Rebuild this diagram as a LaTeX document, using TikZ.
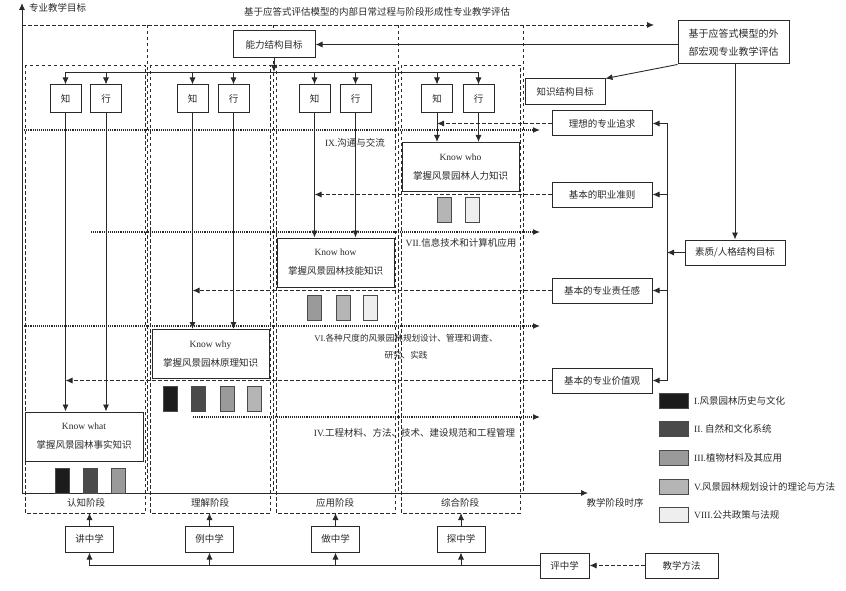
\documentclass[tikz,border=0pt]{standalone}
\usepackage{fontspec}
\setmainfont{Liberation Serif}
\newfontfamily\cjk{Noto Sans CJK SC}
\usetikzlibrary{arrows.meta}
\definecolor{ink}{HTML}{2A2A2A}
\definecolor{kI}{HTML}{1C1C1C}
\definecolor{kII}{HTML}{4A4A4A}
\definecolor{kIII}{HTML}{9A9A9A}
\definecolor{kV}{HTML}{B5B5B5}
\definecolor{kVIII}{HTML}{EEEEEE}
\newcommand{\en}[1]{{\rmfamily #1}}
\begin{document}
\begin{tikzpicture}[x=1pt,y=-1pt,
    every node/.style={font=\cjk\fontsize{9.5}{19}\selectfont,text=ink,inner sep=0pt},
    box/.style={draw=ink,line width=1pt,fill=white,minimum height=26pt},
    kbox/.style={box,minimum width=117pt,minimum height=49pt,align=center},
    zx/.style={box,minimum width=31pt,minimum height=28pt},
    swatch/.style={draw=ink!85,line width=0.9pt,minimum width=14pt,minimum height=25pt},
    keybox/.style={draw=ink!85,line width=0.9pt,minimum width=29pt,minimum height=15pt},
    conn/.style={draw=ink,line width=0.9pt},
    arr/.style={-{Latex[length=7pt,width=6pt]}},
    dline/.style={draw=ink,line width=0.9pt,dash pattern=on 3.5pt off 2.5pt},
    dotl/.style={draw=ink,line width=1.1pt,dash pattern=on 1.1pt off 1pt}]
  \useasboundingbox (0,0) rectangle (846,591);
  \draw[conn,arr] (22,493) -- (22,3);
  \draw[conn,arr] (22,493) -- (588,493);
  \draw[dline,arr] (22,25) -- (654,25);
  \foreach \x in {147.5,273,398,523}
    \draw[dline] (\x,25) -- (\x,493);
  \foreach \a/\b in {25/145,150/270,276/395,401/520}
    \draw[dline] (\a,65) rectangle (\b,513);
  \draw[dotl,arr] (22,130) -- (540,130);
  \draw[dotl,arr] (91,232) -- (540,232);
  \draw[dotl,arr] (22,326) -- (540,326);
  \draw[dotl,arr] (193,417) -- (540,417);

  \node[anchor=west] (ytitle) at (29,8) {专业教学目标};
  \node (toptitle) at (377,12) {基于应答式评估模型的内部日常过程与阶段形成性专业教学评估};
  \node (xtitle) at (615,503) {教学阶段时序};
  \foreach \x/\t [count=\i] in {86/认知阶段,210/理解阶段,335/应用阶段,460/综合阶段}
    \node (stage\i) at (\x,503) {\t};

  \node (ix) at (355,143) {\en{IX.}沟通与交流};
  \node (vii) at (461,243) {\en{VII.}信息技术和计算机应用};
  \node[align=center,font=\cjk\fontsize{8.6}{17}\selectfont] (vi) at (406,346.5)
    {\en{VI.}各种尺度的风景园林规划设计、管理和调查、\\研究、实践};
  \node (iv) at (414.5,433) {\en{IV.}工程材料、方法、技术、建设规范和工程管理};

  \node[kbox] (who) at (460.5,167) {\en{Know who}\\掌握风景园林人力知识};
  \node[kbox] (how) at (335.5,262.5) {\en{Know how}\\掌握风景园林技能知识};
  \node[kbox] (why) at (210.5,354) {\en{Know why}\\掌握风景园林原理知识};
  \node[kbox,minimum width=118pt] (what) at (84,436.5) {\en{Know what}\\掌握风景园林事实知识};

  \node[swatch,fill=kV] (who1) at (444.5,209.5) {};
  \node[swatch,fill=kVIII] (who2) at (472,209.5) {};
  \node[swatch,fill=kIII] (how1) at (314.5,307.5) {};
  \node[swatch,fill=kV] (how2) at (343,307.5) {};
  \node[swatch,fill=kVIII] (how3) at (370,307.5) {};
  \node[swatch,fill=kI] (why1) at (170,398.5) {};
  \node[swatch,fill=kII] (why2) at (198,398.5) {};
  \node[swatch,fill=kIII] (why3) at (227,398.5) {};
  \node[swatch,fill=kV] (why4) at (254,398.5) {};
  \node[swatch,fill=kI] (what1) at (62.5,480.5) {};
  \node[swatch,fill=kII] (what2) at (90,480.5) {};
  \node[swatch,fill=kIII] (what3) at (118.5,480.5) {};

  \foreach \i/\a/\b in {1/65.5/106,2/192.5/233.5,3/314.5/355.5,4/437/478.5} {
    \node[zx] (zhi\i) at (\a,99) {知};
    \node[zx] (xing\i) at (\b,99) {行};
  }
  \node[box,minimum width=82pt,minimum height=27pt] (nengli) at (274,44.5) {能力结构目标};
  \coordinate (dist) at (274,72);
  \draw[conn,arr] (nengli) -- (dist);
  \draw[conn] (zhi1 |- dist) -- (xing4 |- dist);
  \foreach \i/\k in {1/what,2/why,3/how,4/who} {
    \draw[conn,arr] (zhi\i |- dist) -- (zhi\i.north);
    \draw[conn,arr] (xing\i |- dist) -- (xing\i.north);
    \draw[conn,arr] (zhi\i) -- (zhi\i |- \k.north);
    \draw[conn,arr] (xing\i) -- (xing\i |- \k.north);
  }

  \node[box,minimum width=111pt,minimum height=43pt,align=center,
    font=\cjk\fontsize{10}{18}\selectfont] (waibu) at (733.5,42.5)
    {基于应答式模型的外\\部宏观专业教学评估};
  \node[box,minimum width=80pt] (zhishi) at (565,92) {知识结构目标};
  \node[box,minimum width=100pt,minimum height=25pt] (lixiang) at (602,123.5) {理想的专业追求};
  \node[box,minimum width=100pt,minimum height=25pt] (zhunze) at (602,194.5) {基本的职业准则};
  \node[box,minimum width=100pt,minimum height=25pt] (zeren) at (602,290.5) {基本的专业责任感};
  \node[box,minimum width=100pt,minimum height=25pt] (jiazhi) at (602,380.5) {基本的专业价值观};
  \node[box,minimum width=100pt,minimum height=25pt] (suzhi) at (735,252.5) {素质/人格结构目标};

  \draw[conn,arr] (waibu.west |- nengli.east) -- (nengli.east);
  \draw[conn,arr] (waibu.south west) -- (zhishi.north east);
  \draw[conn,arr] (waibu.south -| suzhi.north) -- (suzhi.north);
  \coordinate (brtop) at (667,123.5);
  \coordinate (brbot) at (667,380.5);
  \draw[conn] (brtop) -- (brbot);
  \foreach \n in {lixiang,zhunze,zeren,jiazhi}
    \draw[conn,arr] (brtop |- \n.east) -- (\n.east);
  \draw[conn,arr] (suzhi.west) -- (brtop |- suzhi.west);
  \draw[dline,arr] (lixiang.west) -- (zhi4 |- lixiang.west);
  \draw[dline,arr] (zhunze.west) -- (zhi3 |- zhunze.west);
  \draw[dline,arr] (zeren.west) -- (zhi2 |- zeren.west);
  \draw[dline,arr] (jiazhi.west) -- (zhi1 |- jiazhi.west);

  \foreach \y/\c/\t [count=\i] in {400.5/kI/{\en{I.}风景园林历史与文化},
      429/kII/{\en{II.} 自然和文化系统},457.5/kIII/{\en{III.}植物材料及其应用},
      486.5/kV/{\en{V.}风景园林规划设计的理论与方法},514.5/kVIII/{\en{VIII.}公共政策与法规}} {
    \node[keybox,fill=\c] (key\i) at (673.5,\y) {};
    \node[anchor=west] (keytext\i) at (694,\y) {\t};
  }

  \foreach \x/\t/\n in {89.5/讲中学/jiang,209.5/例中学/li,335.5/做中学/zuo,461/探中学/tan} {
    \node[box,minimum width=48pt] (\n) at (\x,539) {\t};
    \draw[conn,arr] (\n) -- (\n |- 0,513);
  }
  \node[box,minimum width=49pt,minimum height=25pt] (ping) at (564.5,565.5) {评中学};
  \node[box,minimum width=73pt,minimum height=25pt] (fangfa) at (681.5,565.5) {教学方法};
  \draw[conn] (ping.west) -- (jiang |- ping.west);
  \foreach \n in {jiang,li,zuo,tan}
    \draw[conn,arr] (\n |- ping.west) -- (\n);
  \draw[dline,arr] (fangfa) -- (ping);
\end{tikzpicture}
\end{document}
